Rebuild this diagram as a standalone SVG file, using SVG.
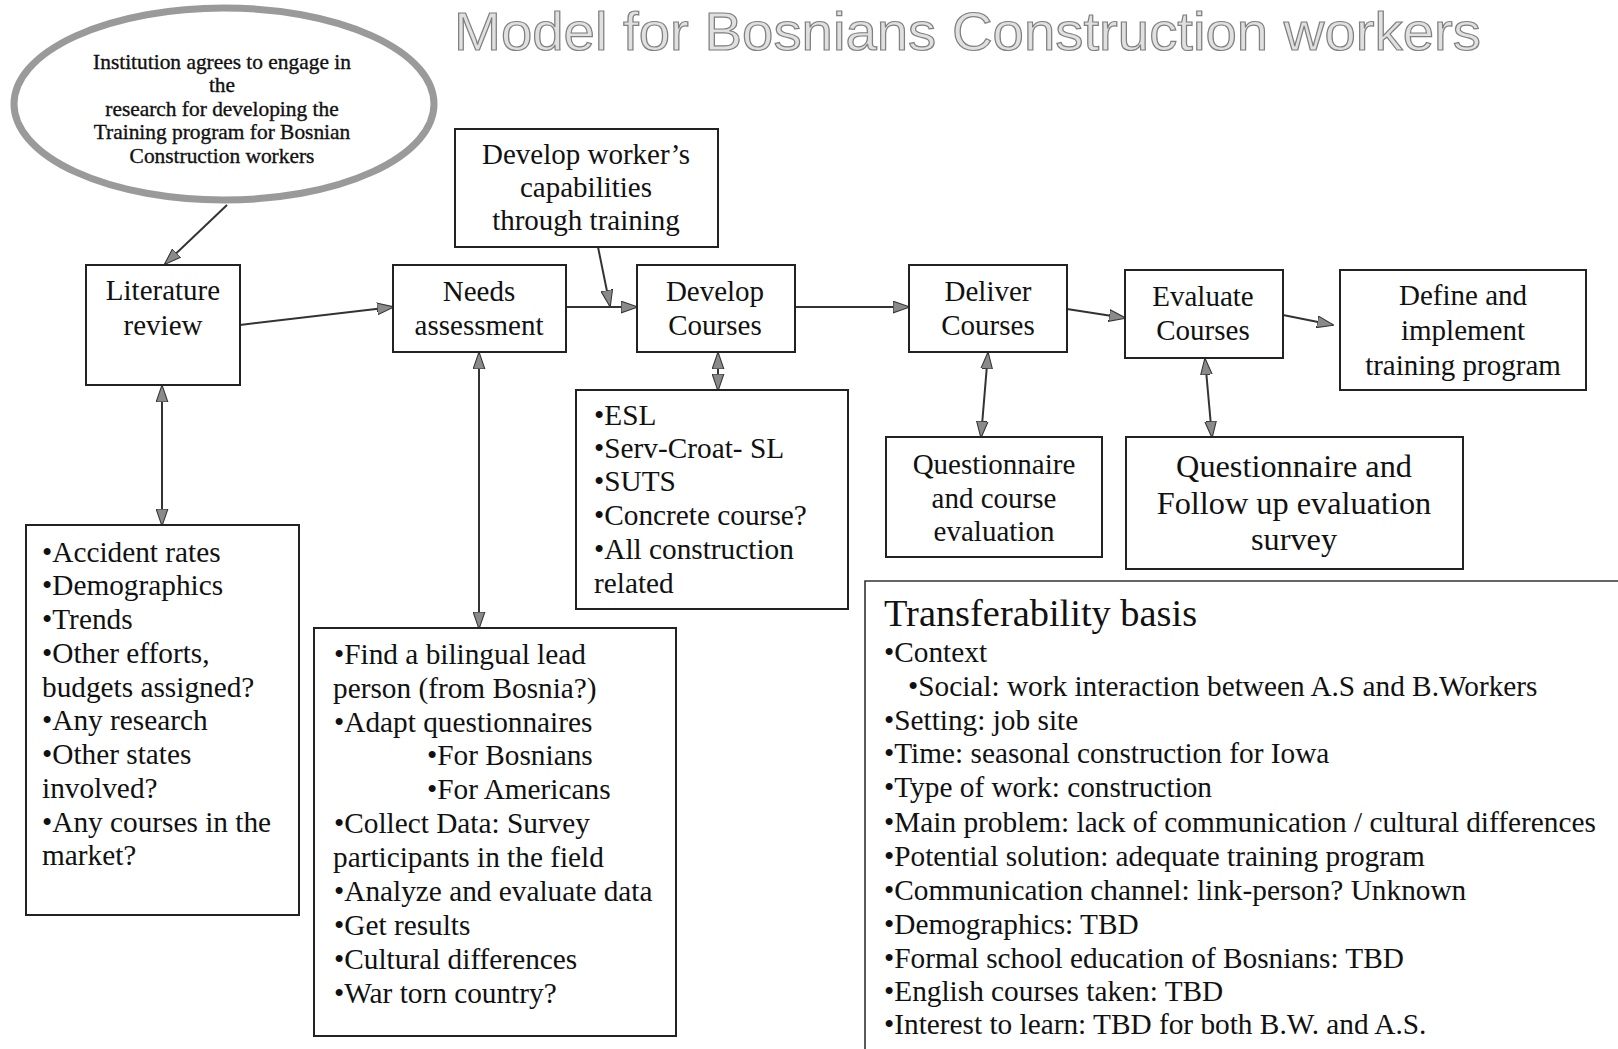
<svg xmlns="http://www.w3.org/2000/svg" width="1618" height="1049" viewBox="0 0 1618 1049">
<defs>
<style>
.box{fill:#fff;stroke:#222;stroke-width:2}
.t{font-family:"Liberation Serif","Times New Roman",serif;fill:#111}
.lb{font-size:29px;text-anchor:middle}
.lbig{font-size:32.3px;text-anchor:middle}
.ls{font-size:29.3px}
.tr{font-size:29.3px}
.con{stroke:#333;stroke-width:2;fill:none}
</style>
<marker id="ah" viewBox="0 0 16 12" refX="15" refY="6" markerWidth="17" markerHeight="13" markerUnits="userSpaceOnUse" orient="auto-start-reverse">
<path d="M0,0.5 L16,6 L0,11.5 Z" fill="#8a8a8a" stroke="#333" stroke-width="1"/>
</marker>
</defs>
<rect width="1618" height="1049" fill="#fff"/>

<text x="454" y="50" font-family="Liberation Sans, Arial, sans-serif" font-size="54" fill="#e0e0e0" stroke="#808080" stroke-width="1.2" textLength="1027" lengthAdjust="spacingAndGlyphs">Model for Bosnians Construction workers</text>

<g id="connectors">
<line class="con" x1="227" y1="205" x2="165" y2="264" marker-end="url(#ah)"/>
<line class="con" x1="240" y1="325" x2="393" y2="307" marker-end="url(#ah)"/>
<line class="con" x1="566" y1="307" x2="637" y2="307" marker-end="url(#ah)"/>
<line class="con" x1="598" y1="247" x2="610" y2="306" marker-end="url(#ah)"/>
<line class="con" x1="795" y1="307" x2="909" y2="307" marker-end="url(#ah)"/>
<line class="con" x1="1067" y1="309" x2="1125" y2="318" marker-end="url(#ah)"/>
<line class="con" x1="1283" y1="315" x2="1333" y2="325" marker-end="url(#ah)"/>
<line class="con" x1="162" y1="386" x2="162" y2="525" marker-start="url(#ah)" marker-end="url(#ah)"/>
<line class="con" x1="479" y1="353" x2="479" y2="628" marker-start="url(#ah)" marker-end="url(#ah)"/>
<line class="con" x1="718" y1="353" x2="718" y2="390" marker-start="url(#ah)" marker-end="url(#ah)"/>
<line class="con" x1="988" y1="353" x2="981" y2="437" marker-start="url(#ah)" marker-end="url(#ah)"/>
<line class="con" x1="1205" y1="359" x2="1212" y2="437" marker-start="url(#ah)" marker-end="url(#ah)"/>
</g>

<g id="institution">
<ellipse cx="224" cy="104" rx="210" ry="96" fill="#fff" stroke="#9a9a9a" stroke-width="7"/>
<g class="t" font-size="21.4" text-anchor="middle" stroke="#111" stroke-width="0.35">
<text x="222" y="69">Institution agrees to engage in</text>
<text x="222" y="92">the</text>
<text x="222" y="116">research for developing the</text>
<text x="222" y="139">Training program for Bosnian</text>
<text x="222" y="163">Construction workers</text>
</g>
</g>

<g id="literature-review">
<rect class="box" x="86" y="265" width="154" height="120"/>
<text class="t lb" x="163" y="300">Literature</text>
<text class="t lb" x="163" y="335">review</text>
</g>

<g id="needs-assessment">
<rect class="box" x="393" y="265" width="173" height="87"/>
<text class="t lb" x="479" y="301">Needs</text>
<text class="t lb" x="479" y="335">assessment</text>
</g>

<g id="develop-capabilities">
<rect class="box" x="455" y="129" width="263" height="118"/>
<text class="t lb" x="586" y="164">Develop worker’s</text>
<text class="t lb" x="586" y="197">capabilities</text>
<text class="t lb" x="586" y="230">through training</text>
</g>

<g id="develop-courses">
<rect class="box" x="637" y="265" width="158" height="87"/>
<text class="t lb" x="715" y="301">Develop</text>
<text class="t lb" x="715" y="335">Courses</text>
</g>

<g id="deliver-courses">
<rect class="box" x="909" y="265" width="158" height="87"/>
<text class="t lb" x="988" y="301">Deliver</text>
<text class="t lb" x="988" y="335">Courses</text>
</g>

<g id="evaluate-courses">
<rect class="box" x="1125" y="270" width="158" height="88"/>
<text class="t lb" x="1203" y="306">Evaluate</text>
<text class="t lb" x="1203" y="340">Courses</text>
</g>

<g id="define-implement">
<rect class="box" x="1340" y="270" width="246" height="120"/>
<text class="t lb" x="1463" y="305">Define and</text>
<text class="t lb" x="1463" y="340">implement</text>
<text class="t lb" x="1463" y="375">training program</text>
</g>

<g id="course-list">
<rect class="box" x="576" y="390" width="272" height="219"/>
<g class="t ls">
<text x="594" y="425">•ESL</text>
<text x="594" y="458">•Serv-Croat- SL</text>
<text x="594" y="491">•SUTS</text>
<text x="594" y="525">•Concrete course?</text>
<text x="594" y="559">•All construction</text>
<text x="594" y="593">related</text>
</g>
</g>

<g id="questionnaire-course">
<rect class="box" x="886" y="437" width="216" height="120"/>
<text class="t lb" x="994" y="474">Questionnaire</text>
<text class="t lb" x="994" y="508">and course</text>
<text class="t lb" x="994" y="541">evaluation</text>
</g>

<g id="questionnaire-followup">
<rect class="box" x="1126" y="437" width="337" height="132"/>
<text class="t lbig" x="1294" y="477">Questionnaire and</text>
<text class="t lbig" x="1294" y="514">Follow up evaluation</text>
<text class="t lbig" x="1294" y="550">survey</text>
</g>

<g id="literature-list">
<rect class="box" x="26" y="525" width="273" height="390"/>
<g class="t ls">
<text x="42" y="562">•Accident rates</text>
<text x="42" y="595">•Demographics</text>
<text x="42" y="629">•Trends</text>
<text x="42" y="663">•Other efforts,</text>
<text x="42" y="697">budgets assigned?</text>
<text x="42" y="730">•Any research</text>
<text x="42" y="764">•Other states</text>
<text x="42" y="798">involved?</text>
<text x="42" y="832">•Any courses in the</text>
<text x="42" y="865">market?</text>
</g>
</g>

<g id="needs-list">
<rect class="box" x="314" y="628" width="362" height="408"/>
<g class="t ls">
<text x="334" y="664">•Find a bilingual lead</text>
<text x="333" y="698">person (from Bosnia?)</text>
<text x="334" y="732">•Adapt questionnaires</text>
<text x="427" y="765">•For Bosnians</text>
<text x="427" y="799">•For Americans</text>
<text x="334" y="833">•Collect Data: Survey</text>
<text x="333" y="867">participants in the field</text>
<text x="334" y="901">•Analyze and evaluate data</text>
<text x="334" y="935">•Get results</text>
<text x="334" y="969">•Cultural differences</text>
<text x="334" y="1003">•War torn country?</text>
</g>
</g>

<g id="transferability">
<path d="M865,1049 V581 H1618" fill="none" stroke="#333" stroke-width="1.6"/>
<text class="t" x="884" y="626" font-size="38.4">Transferability basis</text>
<g class="t tr">
<text x="884" y="662">•Context</text>
<text x="908" y="696">•Social: work interaction between A.S and B.Workers</text>
<text x="884" y="730">•Setting: job site</text>
<text x="884" y="763">•Time: seasonal construction for Iowa</text>
<text x="884" y="797">•Type of work: construction</text>
<text x="884" y="832">•Main problem: lack of communication / cultural differences</text>
<text x="884" y="866">•Potential solution: adequate training program</text>
<text x="884" y="900">•Communication channel: link-person? Unknown</text>
<text x="884" y="934">•Demographics: TBD</text>
<text x="884" y="968">•Formal school education of Bosnians: TBD</text>
<text x="884" y="1001">•English courses taken: TBD</text>
<text x="884" y="1034">•Interest to learn: TBD for both B.W. and A.S.</text>
</g>
</g>
</svg>
